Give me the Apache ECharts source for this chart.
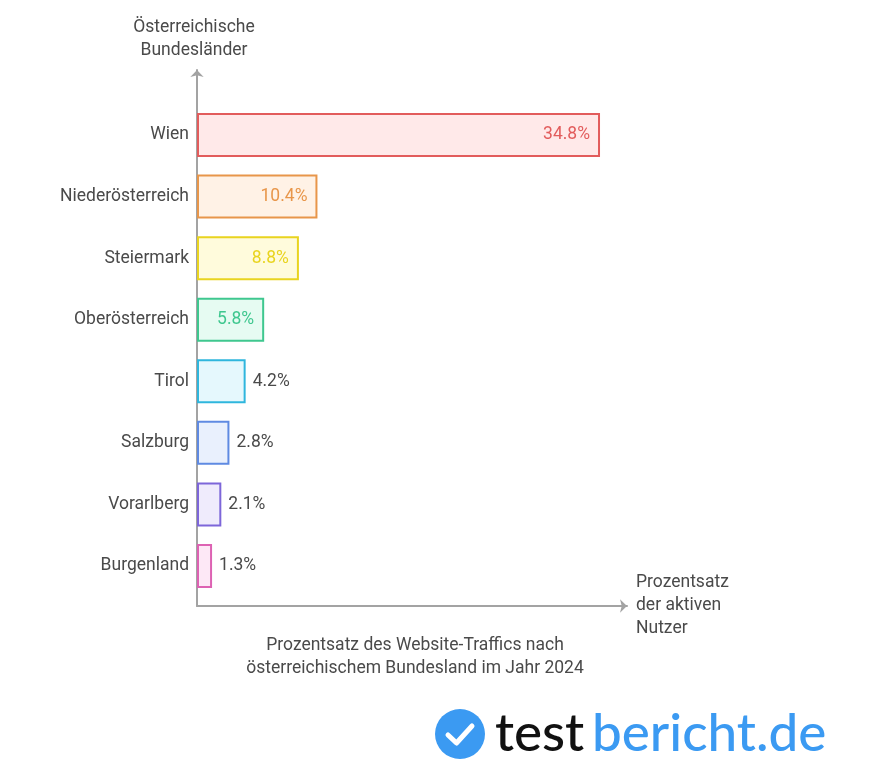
<!DOCTYPE html>
<html>
<head>
<meta charset="utf-8">
<style>html,body{margin:0;padding:0;background:#fff}#chart{width:869px;height:783px}</style>
<script src="https://cdn.jsdelivr.net/npm/echarts@6/dist/echarts.min.js"></script>
</head>
<body>
<div id="chart"></div>
<script>
const states = ['Wien', 'Niederösterreich', 'Steiermark', 'Oberösterreich', 'Tirol', 'Salzburg', 'Vorarlberg', 'Burgenland'];
const shares = [34.8, 10.4, 8.8, 5.8, 4.2, 2.8, 2.1, 1.3];
const strokeColors = ['#e25c5c', '#e8964a', '#e9d41f', '#3fc78f', '#2fb6dd', '#5f8ae2', '#7d66d9', '#dd62b3'];
const fillColors = ['#ffe9e9', '#fff2e6', '#fffbdc', '#e6fbf2', '#e5f8fd', '#e9f0fd', '#efebfc', '#fde8f6'];
const insideCount = 4;
const inkColor = '#4a4a4a';
const font = 'Roboto';

const chevron = 'path://M1 11 L7 1 L13 11 L7 1 Z';
const chart = echarts.init(document.getElementById('chart'), null, { renderer: 'canvas' });

chart.setOption({
  animation: false,
  backgroundColor: '#fff',
  title: {
    text: 'Prozentsatz des Website-Traffics nach\nösterreichischem Bundesland im Jahr 2024',
    left: 410,
    top: 629,
    textAlign: 'center',
    textStyle: { fontFamily: font, fontSize: 17.5, fontWeight: 'normal', color: inkColor, lineHeight: 23 }
  },
  grid: [
    { left: 197, top: 104.2, width: 428.5, height: 492.6, containLabel: false },
    { left: 197, top: 70, width: 430, height: 536, containLabel: false }
  ],
  xAxis: [
    { gridIndex: 0, type: 'value', min: 0, max: 37, show: false },
    {
      gridIndex: 1, type: 'value', min: 0, max: 1,
      axisLabel: { show: false }, axisTick: { show: false }, splitLine: { show: false },
      axisLine: { show: true, symbol: ['none', 'arrow'], symbolSize: [10, 7], symbolOffset: [0, 0],
        lineStyle: { color: '#a3a3a3', width: 2 } },
      name: 'Prozentsatz\nder aktiven\nNutzer',
      nameLocation: 'end',
      nameGap: 9,
      nameTextStyle: { fontFamily: font, fontSize: 17.5, color: inkColor, lineHeight: 23, align: 'left', verticalAlign: 'middle' }
    }
  ],
  yAxis: [
    {
      gridIndex: 0, type: 'category', data: states, inverse: true,
      axisLine: { show: false }, axisTick: { show: false },
      axisLabel: { margin: 8, fontFamily: font, fontSize: 17.5, color: inkColor }
    },
    {
      gridIndex: 1, type: 'value', min: 0, max: 1,
      axisLabel: { show: false }, axisTick: { show: false }, splitLine: { show: false },
      axisLine: { show: true, symbol: ['none', 'arrow'], symbolSize: [10, 7], symbolOffset: [0, 0],
        lineStyle: { color: '#a3a3a3', width: 2 } },
      name: 'Österreichische\nBundesländer',
      nameLocation: 'end',
      nameGap: 8,
      nameTextStyle: { fontFamily: font, fontSize: 17.5, color: inkColor, lineHeight: 23, align: 'center', verticalAlign: 'bottom', padding: [0, 0, 0, -6] }
    }
  ],
  series: [{
    type: 'bar',
    xAxisIndex: 0,
    yAxisIndex: 0,
    barWidth: 44,
    data: shares.map((value, i) => ({
      value,
      itemStyle: { color: fillColors[i], borderColor: strokeColors[i], borderWidth: 2 },
      label: {
        show: true,
        position: i < insideCount ? 'insideRight' : 'right',
        distance: i < insideCount ? 10 : 7,
        formatter: '{c}%',
        fontFamily: font,
        fontSize: 17.5,
        color: i < insideCount ? strokeColors[i] : inkColor
      }
    }))
  }],
  graphic: [
    { type: 'circle', shape: { cx: 460, cy: 734, r: 25 }, style: { fill: '#3b9af2' } },
    { type: 'polyline', shape: { points: [[448, 735], [456.5, 743], [472, 726]] },
      style: { stroke: '#fff', lineWidth: 5, fill: null, lineCap: 'round', lineJoin: 'round' } },
    { type: 'text', x: 495, y: 734,
      style: { text: 'test', fill: '#111', fontFamily: 'Lato', fontSize: 53, fontWeight: 500, verticalAlign: 'middle', align: 'left' } },
    { type: 'text', x: 592, y: 734,
      style: { text: 'bericht.de', fill: '#3b9af2', fontFamily: 'Lato', fontSize: 53, fontWeight: 500, verticalAlign: 'middle', align: 'left' } }
  ]
});
</script>
</body>
</html>
